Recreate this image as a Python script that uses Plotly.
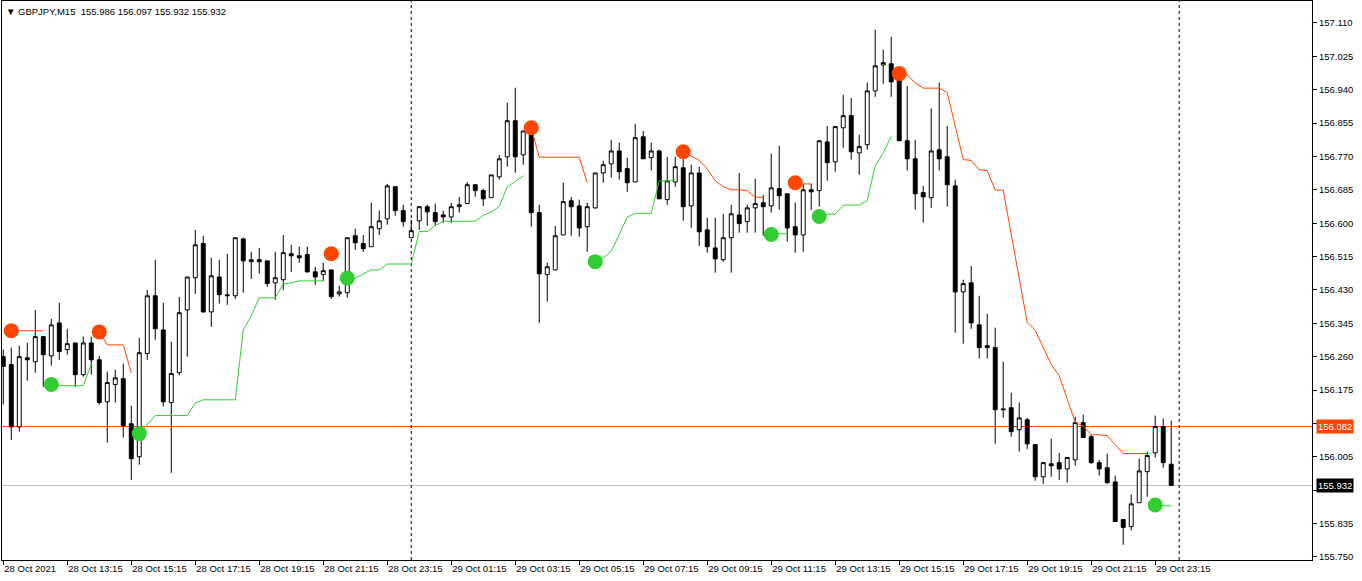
import pandas as pd
import plotly.graph_objects as go

# ─────────────────────────────────────────────
# DATA  (GBPJPY M15, bars from 28 Oct 2021 11:15)
# ─────────────────────────────────────────────
SYMBOL = "GBPJPY,M15"
FIRST_BAR = "2021-10-28 11:15"

OPEN = [
    156.260, 156.240, 156.081, 156.257, 156.247, 156.311, 156.262, 156.346, 156.278, 156.295,
    156.214, 156.295, 156.252, 156.145, 156.189, 156.204, 156.089, 156.005, 156.268, 156.415,
    156.328, 156.143, 156.219, 156.379, 156.461, 156.548, 156.374, 156.463, 156.415, 156.415,
    156.560, 156.502, 156.507, 156.504, 156.448, 156.456, 156.522, 156.517, 156.520, 156.476,
    156.469, 156.481, 156.420, 156.423, 156.568, 156.548, 156.540, 156.586, 156.611, 156.693,
    156.632, 156.563, 156.606, 156.642, 156.627, 156.621, 156.616, 156.642, 156.650, 156.698,
    156.683, 156.665, 156.718, 156.769, 156.861, 156.774, 156.843, 156.627, 156.469, 156.481,
    156.570, 156.657, 156.644, 156.591, 156.639, 156.728, 156.751, 156.784, 156.739, 156.705,
    156.820, 156.767, 156.784, 156.660, 156.705, 156.741, 156.644, 156.728, 156.583, 156.537,
    156.507, 156.563, 156.621, 156.604, 156.639, 156.652, 156.644, 156.688, 156.675, 156.591,
    156.570, 156.685, 156.683, 156.807, 156.756, 156.843, 156.874, 156.779, 156.800, 156.937,
    157.003, 157.006, 156.986, 156.810, 156.764, 156.678, 156.665, 156.787, 156.769, 156.695,
    156.425, 156.448, 156.341, 156.288, 156.283, 156.127, 156.130, 156.074, 156.099, 156.036,
    155.954, 155.987, 155.990, 155.974, 155.997, 156.092, 156.056, 155.990, 155.977, 155.941,
    155.845, 155.827, 155.888, 155.967, 156.015, 156.082, 155.986,
]
HIGH = [
    156.278, 156.283, 156.288, 156.295, 156.379, 156.313, 156.356, 156.397, 156.331, 156.295,
    156.311, 156.311, 156.262, 156.222, 156.227, 156.242, 156.135, 156.308, 156.430, 156.507,
    156.397, 156.298, 156.412, 156.463, 156.583, 156.568, 156.512, 156.507, 156.522, 156.563,
    156.563, 156.527, 156.537, 156.504, 156.527, 156.570, 156.545, 156.540, 156.540, 156.489,
    156.499, 156.481, 156.441, 156.563, 156.586, 156.570, 156.652, 156.632, 156.700, 156.693,
    156.647, 156.609, 156.644, 156.647, 156.650, 156.632, 156.652, 156.667, 156.705, 156.698,
    156.688, 156.723, 156.774, 156.907, 156.945, 156.835, 156.850, 156.647, 156.499, 156.593,
    156.703, 156.667, 156.660, 156.652, 156.728, 156.759, 156.812, 156.805, 156.767, 156.853,
    156.835, 156.805, 156.787, 156.769, 156.769, 156.767, 156.749, 156.744, 156.614, 156.614,
    156.624, 156.647, 156.728, 156.647, 156.713, 156.672, 156.777, 156.797, 156.675, 156.652,
    156.700, 156.700, 156.812, 156.848, 156.848, 156.927, 156.919, 156.825, 156.958, 157.093,
    157.042, 157.075, 156.996, 156.950, 156.812, 156.695, 156.892, 156.958, 156.848, 156.711,
    156.456, 156.491, 156.415, 156.369, 156.334, 156.247, 156.168, 156.143, 156.104, 156.036,
    155.992, 156.051, 156.015, 156.003, 156.107, 156.112, 156.061, 155.997, 156.013, 155.957,
    155.845, 155.909, 156.000, 156.018, 156.110, 156.102, 156.097,
]
LOW = [
    156.138, 156.048, 156.069, 156.199, 156.219, 156.183, 156.237, 156.252, 156.265, 156.183,
    156.209, 156.214, 156.138, 156.041, 156.143, 156.054, 155.946, 155.985, 156.252, 156.303,
    156.133, 155.964, 156.212, 156.260, 156.420, 156.372, 156.336, 156.395, 156.392, 156.407,
    156.423, 156.458, 156.471, 156.438, 156.405, 156.430, 156.476, 156.499, 156.474, 156.443,
    156.453, 156.407, 156.413, 156.410, 156.532, 156.527, 156.540, 156.570, 156.596, 156.619,
    156.591, 156.563, 156.583, 156.593, 156.593, 156.601, 156.601, 156.627, 156.650, 156.667,
    156.644, 156.665, 156.711, 156.744, 156.728, 156.749, 156.591, 156.346, 156.400, 156.481,
    156.570, 156.568, 156.565, 156.527, 156.637, 156.703, 156.716, 156.711, 156.680, 156.705,
    156.764, 156.734, 156.662, 156.647, 156.693, 156.606, 156.588, 156.542, 156.525, 156.474,
    156.502, 156.474, 156.576, 156.576, 156.576, 156.568, 156.627, 156.634, 156.553, 156.525,
    156.527, 156.634, 156.642, 156.708, 156.731, 156.792, 156.762, 156.723, 156.787, 156.922,
    156.955, 156.922, 156.810, 156.734, 156.634, 156.601, 156.639, 156.734, 156.642, 156.321,
    156.293, 156.331, 156.255, 156.255, 156.038, 156.104, 156.056, 156.018, 156.025, 155.944,
    155.936, 155.954, 155.946, 155.939, 155.982, 156.054, 155.987, 155.957, 155.936, 155.840,
    155.781, 155.817, 155.888, 155.903, 156.003, 155.977, 155.932,
]
CLOSE = [
    156.235, 156.081, 156.260, 156.252, 156.311, 156.265, 156.341, 156.273, 156.293, 156.214,
    156.295, 156.252, 156.143, 156.194, 156.206, 156.084, 156.000, 156.270, 156.415, 156.331,
    156.145, 156.217, 156.372, 156.463, 156.545, 156.374, 156.466, 156.418, 156.417, 156.563,
    156.504, 156.507, 156.502, 156.446, 156.461, 156.525, 156.517, 156.512, 156.476, 156.463,
    156.479, 156.413, 156.425, 156.563, 156.550, 156.535, 156.591, 156.606, 156.695, 156.632,
    156.604, 156.581, 156.642, 156.629, 156.604, 156.616, 156.642, 156.647, 156.698, 156.683,
    156.662, 156.723, 156.764, 156.861, 156.769, 156.835, 156.627, 156.471, 156.489, 156.568,
    156.655, 156.642, 156.588, 156.642, 156.728, 156.749, 156.784, 156.731, 156.703, 156.818,
    156.764, 156.784, 156.662, 156.708, 156.744, 156.642, 156.728, 156.578, 156.540, 156.509,
    156.563, 156.624, 156.599, 156.639, 156.650, 156.642, 156.690, 156.670, 156.588, 156.570,
    156.685, 156.680, 156.810, 156.754, 156.846, 156.874, 156.782, 156.795, 156.937, 157.001,
    157.009, 156.960, 156.810, 156.764, 156.675, 156.667, 156.784, 156.764, 156.698, 156.425,
    156.446, 156.346, 156.283, 156.283, 156.125, 156.125, 156.069, 156.104, 156.038, 155.954,
    155.990, 155.982, 155.974, 156.003, 156.092, 156.054, 155.990, 155.974, 155.939, 155.840,
    155.825, 155.885, 155.969, 156.008, 156.082, 155.990, 155.932,
]

# trailing-stop indicator: upper (sell) line and lower (buy) line, None where inactive
UPPER = [
    None, 156.326, 156.326, 156.326, 156.326, 156.326, None, None, None, None,
    None, None, 156.323, 156.290, 156.290, 156.290, 156.219, None, None, None,
    None, None, None, None, None, None, None, None, None, None,
    None, None, None, None, None, None, None, None, None, None,
    None, 156.522, 156.522, None, None, None, None, None, None, None,
    None, None, None, None, None, None, None, None, None, None,
    None, None, None, None, None, None, 156.843, 156.768, 156.768, 156.768,
    156.768, 156.768, 156.768, 156.703, None, None, None, None, None, None,
    None, None, None, None, None, 156.782, 156.772, 156.760, 156.738, 156.708,
    156.693, 156.685, 156.685, 156.683, 156.666, 156.666, None, None, None, 156.703,
    156.700, 156.700, None, None, None, None, None, None, None, None,
    None, None, 156.981, 156.978, 156.957, 156.944, 156.944, 156.944, 156.933, 156.847,
    156.762, 156.760, 156.736, 156.734, 156.684, 156.684, 156.569, 156.455, 156.347, 156.327,
    156.282, 156.240, 156.211, 156.153, 156.093, 156.083, 156.061, 156.061, 156.059, 156.036,
    156.013, 156.013, 156.013, 156.013, None, None, None,
]
LOWER = [
    None, None, None, None, None, None, 156.189, 156.186, 156.186, 156.186,
    156.186, 156.241, None, None, None, None, None, 156.064, 156.087, 156.110,
    156.110, 156.110, 156.110, 156.110, 156.142, 156.150, 156.150, 156.150, 156.150, 156.150,
    156.328, 156.364, 156.410, 156.410, 156.410, 156.445, 156.448, 156.453, 156.453, 156.453,
    156.453, None, None, 156.460, 156.460, 156.471, 156.481, 156.481, 156.496, 156.496,
    156.496, 156.496, 156.579, 156.579, 156.594, 156.605, 156.605, 156.605, 156.605, 156.605,
    156.620, 156.629, 156.642, 156.693, 156.706, 156.721, None, None, None, None,
    None, None, None, None, 156.502, 156.511, 156.528, 156.573, 156.615, 156.625,
    156.625, 156.625, 156.708, 156.708, 156.711, None, None, None, None, None,
    None, None, None, None, None, None, 156.571, 156.573, 156.573, None,
    None, None, 156.617, 156.623, 156.623, 156.646, 156.646, 156.646, 156.658, 156.746,
    156.779, 156.821, None, None, None, None, None, None, None, None,
    None, None, None, None, None, None, None, None, None, None,
    None, None, None, None, None, None, None, None, None, None,
    None, None, None, None, 155.882, 155.880, 155.880,
]

LEVEL = 156.082  # horizontal level line

PRICE_TICKS = [
    157.110, 157.025, 156.940, 156.855, 156.770, 156.685, 156.600, 156.515, 156.430,
    156.345, 156.260, 156.175, 156.090, 156.005, 155.920, 155.835, 155.750,
]
TIME_LABELS = [
    "28 Oct 2021", "28 Oct 13:15", "28 Oct 15:15", "28 Oct 17:15", "28 Oct 19:15",
    "28 Oct 21:15", "28 Oct 23:15", "29 Oct 01:15", "29 Oct 03:15", "29 Oct 05:15",
    "29 Oct 07:15", "29 Oct 09:15", "29 Oct 11:15", "29 Oct 13:15", "29 Oct 15:15",
    "29 Oct 17:15", "29 Oct 19:15", "29 Oct 21:15", "29 Oct 23:15",
]

# ─────────────────────────────────────────────
# STYLE
# ─────────────────────────────────────────────
RED = "#FF4500"
GREEN = "#32CD32"
FONT = "Liberation Sans"
FSIZE = 9.5

n = len(OPEN)
bars = list(range(n))
times = pd.date_range(FIRST_BAR, periods=n, freq="15min")
step = pd.Timedelta("15min")

# day separators (midnights), MT4 style
midnights = pd.date_range(times[0].normalize() + pd.Timedelta("1D"),
                          times[-1].normalize() + pd.Timedelta("1D"), freq="D")
separators = [int((m - times[0]) / step) for m in midnights]


def first_points(series):
    """Signal dots: first bar of every active run of the line."""
    xs, ys = [], []
    for i, v in enumerate(series):
        if v is not None and (i == 0 or series[i - 1] is None):
            xs.append(i)
            ys.append(v)
    return xs, ys


fig = go.Figure()

fig.add_trace(go.Candlestick(
    x=bars, open=OPEN, high=HIGH, low=LOW, close=CLOSE,
    increasing=dict(line=dict(color="black", width=1), fillcolor="white"),
    decreasing=dict(line=dict(color="black", width=1), fillcolor="black"),
    whiskerwidth=0, showlegend=False, hoverinfo="skip",
))

for series, color in [(UPPER, RED), (LOWER, GREEN)]:
    fig.add_trace(go.Scatter(
        x=bars, y=series, mode="lines",
        line=dict(color=color, width=1),
        connectgaps=False, showlegend=False, hoverinfo="skip",
    ))

for series, color in [(UPPER, RED), (LOWER, GREEN)]:
    dx, dy = first_points(series)
    fig.add_trace(go.Scatter(
        x=dx, y=dy, mode="markers",
        marker=dict(color=color, size=15, line=dict(width=0)),
        showlegend=False, hoverinfo="skip",
    ))

# level line and bid line
fig.add_hline(y=LEVEL, line=dict(color=RED, width=1), layer="below")
fig.add_hline(y=CLOSE[-1], line=dict(color="#C0C0C0", width=1), layer="below")

for s in separators:
    fig.add_vline(x=s, line=dict(color="black", width=1, dash="3px,3px"), layer="below")

# price boxes on the right scale (they hide the scale labels underneath)
boxes = [(LEVEL, RED), (CLOSE[-1], "black")]
for price, bg in boxes:
    fig.add_annotation(
        x=1, xref="paper", y=price, yref="y", xanchor="left", xshift=4,
        text=f"{price:.3f}", showarrow=False, bgcolor=bg, borderpad=1,
        font=dict(family=FONT, size=FSIZE, color="white"),
    )
covered = [min(PRICE_TICKS, key=lambda t: abs(t - p)) for p, _ in boxes]
tick_text = ["" if t in covered else f"{t:.3f}" for t in PRICE_TICKS]

# header
fig.add_annotation(
    x=0, xref="paper", y=1, yref="paper", xanchor="left", yanchor="top",
    xshift=2, yshift=-3,
    text=f"▼ {SYMBOL}\u00a0\u00a0{OPEN[-1]:.3f} {HIGH[-1]:.3f} {LOW[-1]:.3f} {CLOSE[-1]:.3f}",
    showarrow=False, font=dict(family=FONT, size=FSIZE, color="black"),
)

fig.update_layout(
    width=1362, height=581,
    margin=dict(l=2, r=50, t=1, b=21, autoexpand=False),
    paper_bgcolor="white", plot_bgcolor="white",
    showlegend=False,
    font=dict(family=FONT, size=FSIZE, color="black"),
    xaxis=dict(
        range=[-0.16, 163.6],
        tickvals=bars[::8], ticktext=TIME_LABELS,
        ticks="outside", ticklen=4, tickcolor="black",
        ticklabelposition="outside right",
        showline=True, mirror=True, linecolor="black", linewidth=1,
        showgrid=False, zeroline=False, automargin=False,
        rangeslider=dict(visible=False),
    ),
    yaxis=dict(
        side="right",
        range=[155.742, 157.166],
        tickvals=PRICE_TICKS, ticktext=tick_text,
        ticks="outside", ticklen=4, tickcolor="black",
        showline=True, mirror=True, linecolor="black", linewidth=1,
        showgrid=False, zeroline=False, automargin=False,
    ),
)

# page without the default 8px body margin so the chart sits at the window's corner
fig.write_html(
    "out.html",
    config={"displayModeBar": False},
    post_script="document.body.style.margin='0';",
)
